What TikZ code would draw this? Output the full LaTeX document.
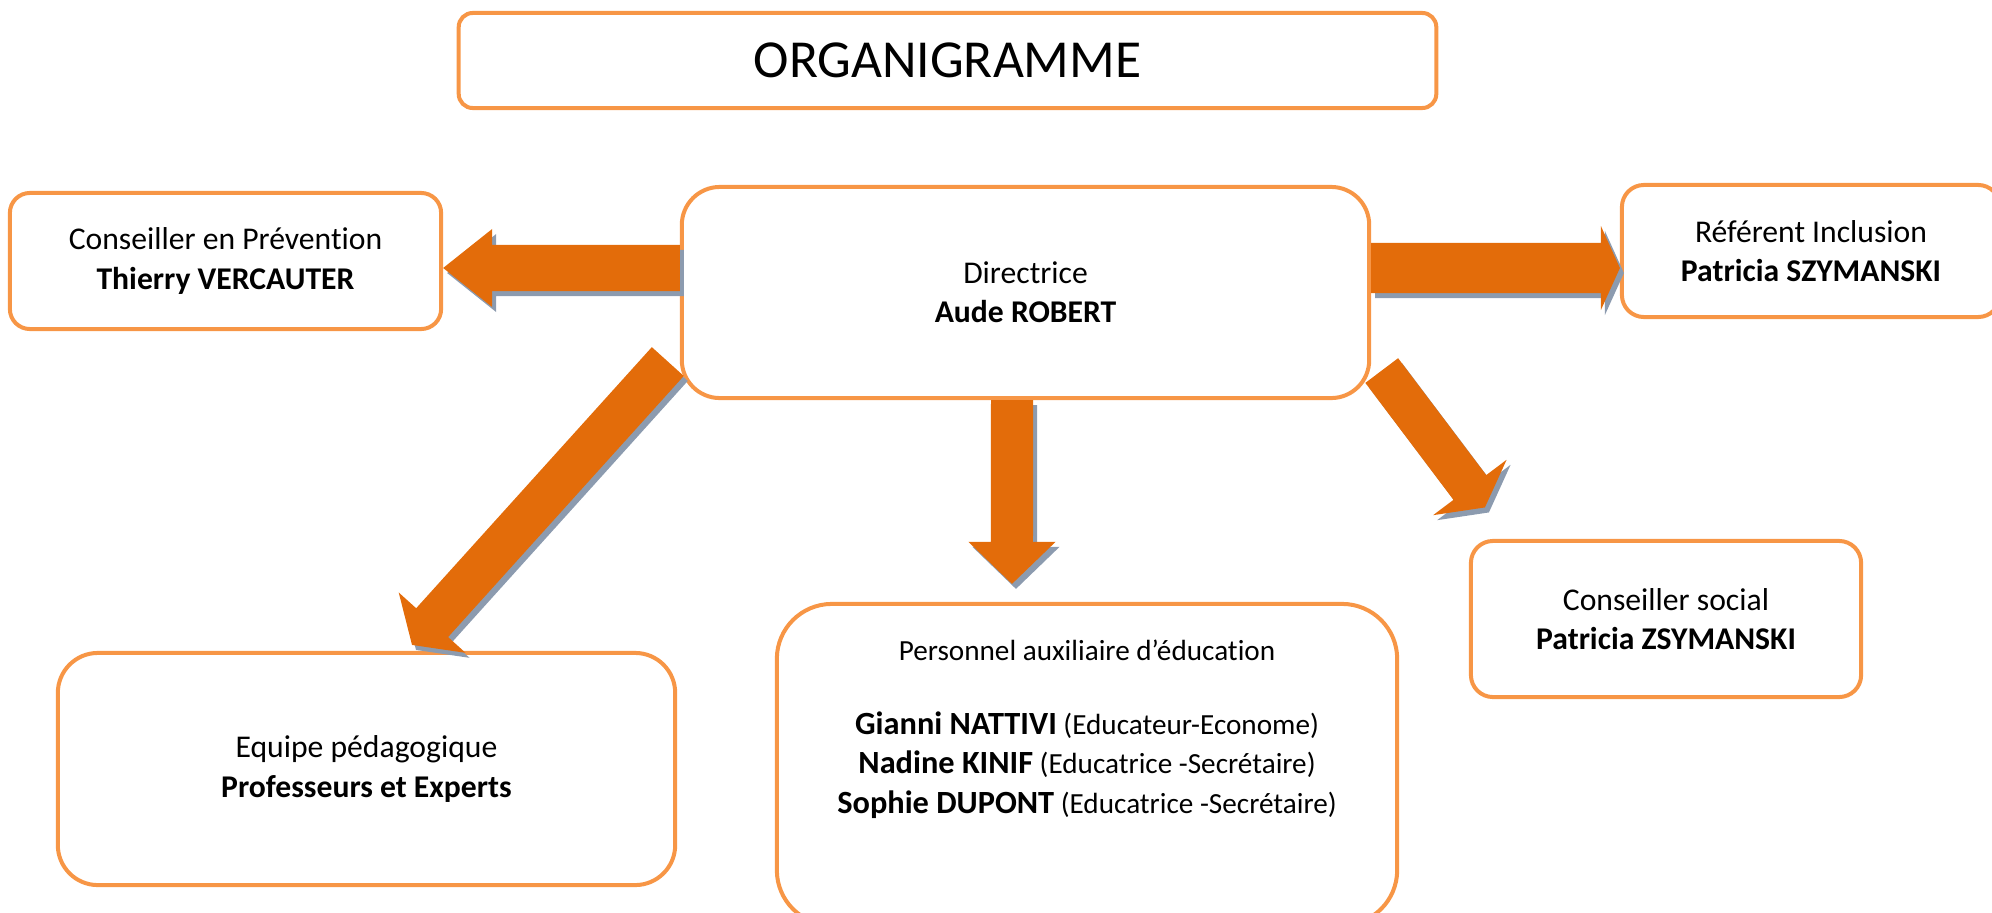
\documentclass[tikz,border=0pt]{standalone}
\usepackage{fontspec}
\setmainfont[Ligatures=NoCommon]{Carlito}
\usetikzlibrary{calc,positioning}
\definecolor{boxorange}{HTML}{F79646}
\definecolor{arroworange}{HTML}{E36C0A}
\definecolor{shadowgrey}{RGB}{140,155,175}
\newcommand{\staffname}[1]{{\fontsize{9.2}{11.2}\selectfont\bfseries #1}}

\begin{document}
\begin{tikzpicture}[x=0.01cm, y=-0.01cm]
	\tikzstyle{box}
	  =[draw=boxorange, line width=0.04cm, rectangle, align=center,
	  font=\fontsize{9}{11.1}\selectfont]
	\tikzset{blockarrow/.style n args={3}{
	  fill=arroworange,
	  preaction={fill=shadowgrey,
	    transform canvas={xshift=0.04cm, yshift=-0.05cm}},
	  to path={($(\tikztotarget)!#3!(\tikztostart)$) coordinate (hb)
	    ($(\tikztostart)!#1!90:(\tikztotarget)$)
	    -- ($(hb)!#1!90:(\tikztotarget)$)
	    -- ($(hb)!#2!90:(\tikztotarget)$)
	    -- (\tikztotarget)
	    -- ($(hb)!#2!-90:(\tikztotarget)$)
	    -- ($(hb)!#1!-90:(\tikztotarget)$)
	    -- ($(\tikztostart)!#1!-90:(\tikztotarget)$) -- cycle}}}

	\useasboundingbox (0,0) rectangle (1992,912);

	\node[box, minimum width=9.77cm, minimum height=0.95cm,
	  rounded corners=0.14cm, font=\fontsize{15.2}{18}\selectfont]
	  (title) at (947.5,60.5) {ORGANIGRAMME};

	\node[box, minimum width=6.87cm, minimum height=2.11cm,
	  rounded corners=0.38cm] (dir) at (1025.5,292.5)
	  {Directrice\\\textbf{Aude ROBERT}};
	\node[box, minimum width=4.31cm, minimum height=1.36cm,
	  rounded corners=0.2cm] (cons) at (225.5,261)
	  {Conseiller en Prévention\\\textbf{Thierry VERCAUTER}};
	\node[box, minimum width=3.78cm, minimum height=1.32cm,
	  rounded corners=0.22cm] (ref) at (1811,251)
	  {Référent Inclusion\\\textbf{Patricia SZYMANSKI}};
	\node[box, minimum width=6.17cm, minimum height=2.32cm,
	  rounded corners=0.4cm] (equipe) at (366.5,769)
	  {Equipe pédagogique\\\textbf{Professeurs et Experts}};
	\node[box, minimum width=3.9cm, minimum height=1.56cm,
	  rounded corners=0.22cm] (soc) at (1666,619)
	  {Conseiller social\\\textbf{Patricia ZSYMANSKI}};
	\node[box, minimum width=6.2cm, minimum height=3.21cm,
	  rounded corners=0.55cm] (pers) at (1087,764.5) {};
	\node[anchor=north, inner sep=0pt, align=center,
	  font=\fontsize{8.3}{11.2}\selectfont]
	  (perstext) at ([yshift=-0.37cm]pers.north)
	  {Personnel auxiliaire d’éducation\\[9.9pt]
	  \staffname{Gianni NATTIVI} (Educateur-Econome)\\
	  \staffname{Nadine KINIF} (Educatrice -Secrétaire)\\
	  \staffname{Sophie DUPONT} (Educatrice -Secrétaire)};

	% block arrows: half shaft, half head, head length
	\path[blockarrow={0.23cm}{0.39cm}{0.49cm}]
	  ([yshift=0.245cm]dir.west) to ([yshift=-0.07cm]cons.east);
	\path[blockarrow={0.25cm}{0.42cm}{0.19cm}]
	  ([yshift=0.245cm]dir.east) to ([yshift=-0.17cm]ref.west);
	\path[blockarrow={0.21cm}{0.435cm}{0.42cm}]
	  ([xshift=-0.135cm]dir.south) to ([xshift=-0.75cm,yshift=0.18cm]pers.north);
	\path[blockarrow={0.215cm}{0.45cm}{0.3cm}]
	  ([xshift=-0.12cm,yshift=0.385cm]dir.south west)
	  to ([xshift=0.455cm,yshift=0.06cm]equipe.north);
	\path[blockarrow={0.205cm}{0.46cm}{0.25cm}]
	  ([xshift=0.105cm,yshift=0.295cm]dir.south east)
	  to ([xshift=0.16cm,yshift=0.315cm]soc.north west);
\end{tikzpicture}
\end{document}
